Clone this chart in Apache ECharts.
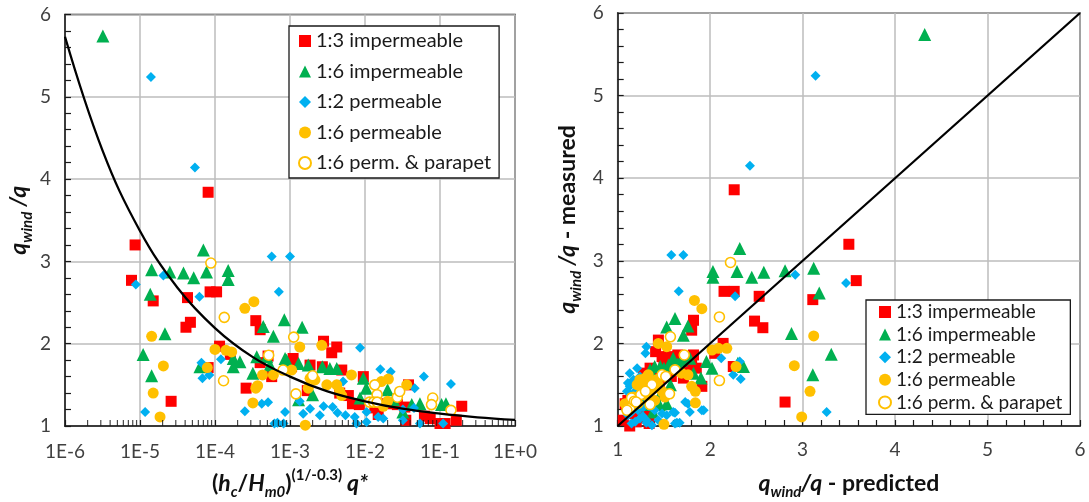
<!DOCTYPE html>
<html>
<head>
<meta charset="utf-8">
<script src="https://cdn.jsdelivr.net/npm/echarts@6/dist/echarts.min.js"></script>
<style>
  html, body { margin: 0; padding: 0; background: #fff; }
  #chart { width: 1089px; height: 502px; }
</style>
</head>
<body>
<div id="chart"></div>
<script>
// Test series
const seriesNames = ['1:3 impermeable', '1:6 impermeable', '1:2 permeable', '1:6 permeable', '1:6 perm. & parapet'];

// Left panel: [(hc/Hm0)^(1/-0.3) q*, qwind/q measured]
const leftImp13 = [
  [8.6e-6, 3.2], [7.7e-6, 2.77], [1.5e-5, 2.52], [4.3e-5, 2.56], [4.1e-5, 2.2], [4.7e-5, 2.26],
  [8.6e-5, 2.63], [1.05e-4, 2.63], [2.6e-5, 1.3], [8.1e-5, 3.84], [1.15e-4, 1.97], [1.6e-4, 1.87],
  [8.1e-5, 1.71], [3.5e-4, 2.28], [4.0e-4, 2.17], [2.6e-4, 1.46], [5.1e-4, 1.85], [4.0e-4, 1.77],
  [5.7e-4, 1.6], [2.8e-3, 2.03], [4.2e-3, 1.96], [3.6e-3, 1.89], [1.1e-3, 1.82], [1.05e-3, 1.72],
  [1.85e-3, 1.74], [2.7e-3, 1.72], [4.9e-3, 1.68], [9.5e-3, 1.6], [1.7e-3, 1.43], [4.6e-3, 1.4],
  [6.0e-3, 1.37], [6.8e-3, 1.27], [8.4e-3, 1.26], [1.35e-2, 1.22], [1.5e-2, 1.14], [1.95e-2, 1.27],
  [2.7e-2, 1.26], [3.4e-2, 1.23], [3.8e-2, 1.5], [3.5e-2, 1.07], [6.2e-2, 1.12], [7.4e-2, 1.09],
  [1.0e-1, 1.03], [1.17e-1, 1.03], [1.65e-1, 1.07], [1.95e-1, 1.24]
];
const leftImp16 = [
  [3.2e-6, 5.74], [7.0e-5, 3.14], [1.43e-5, 2.9], [2.5e-5, 2.87], [3.8e-5, 2.86], [5.2e-5, 2.8],
  [7.7e-5, 2.87], [1.5e-4, 2.89], [1.5e-4, 2.78], [1.37e-5, 2.6], [2.15e-5, 2.12], [1.1e-5, 1.87],
  [1.43e-5, 1.61], [6.3e-5, 1.72], [1.75e-4, 1.82], [2.15e-4, 1.78], [1.75e-4, 1.72], [4.4e-4, 2.21],
  [6.0e-4, 2.09], [3.6e-4, 1.84], [4.9e-4, 1.84], [5.4e-4, 1.74], [3.2e-4, 1.64], [8.4e-4, 2.29],
  [1.45e-3, 2.2], [8.6e-4, 1.82], [1.3e-3, 1.76], [1.75e-3, 1.74], [2.7e-3, 1.72], [3.4e-3, 1.7],
  [4.2e-3, 1.7], [9.5e-3, 1.58], [1.04e-2, 1.46], [2.0e-3, 1.38], [8.6e-3, 1.34], [1.3e-3, 1.32],
  [2.4e-2, 1.32], [4.2e-2, 1.26], [5.4e-2, 1.27], [1.05e-1, 1.26], [1.2e-1, 1.27], [2.0e-2, 1.44],
  [3.2e-2, 1.17], [9.0e-4, 1.8]
];
const leftPerm12 = [
  [1.4e-5, 5.24], [5.4e-5, 4.14], [8.8e-6, 2.72], [2.05e-5, 2.83], [6.2e-5, 2.57], [5.7e-4, 3.06],
  [1.0e-3, 3.06], [7.1e-4, 2.63], [6.6e-5, 1.77], [6.8e-5, 1.58], [8.4e-5, 1.62], [1.2e-4, 1.81],
  [1.17e-5, 1.17], [2.5e-4, 1.18], [4.2e-4, 1.27], [5.1e-4, 1.29], [6.8e-4, 1.04], [8.2e-4, 1.03],
  [8.6e-4, 1.17], [1.2e-3, 1.38], [1.35e-3, 1.3], [1.5e-3, 1.15], [1.85e-3, 1.21], [2.5e-3, 1.13],
  [2.8e-3, 1.24], [3.7e-3, 1.23], [4.3e-3, 1.16], [5.5e-3, 1.13], [5.1e-3, 1.54], [8.6e-3, 1.95],
  [7.3e-3, 1.11], [7.7e-3, 1.03], [1.05e-2, 1.05], [1.05e-2, 1.17], [1.6e-2, 1.69], [2.2e-2, 1.66],
  [1.5e-2, 1.11], [1.75e-2, 1.09], [3.2e-2, 1.07], [5.4e-2, 1.03], [1.1e-1, 1.03], [6.1e-2, 1.6],
  [1.4e-1, 1.51], [4.6e-2, 1.46], [3.2e-2, 1.2], [4.5e-2, 1.22], [6.2e-4, 1.03]
];
const leftPerm16 = [
  [1.43e-5, 2.09], [2.05e-5, 1.73], [1.5e-5, 1.4], [1.85e-5, 1.11], [7.9e-5, 1.71], [1.0e-4, 1.93],
  [1.4e-4, 1.92], [1.67e-4, 1.9], [2.5e-4, 2.43], [3.3e-4, 2.51], [3.5e-4, 1.46], [3.7e-4, 1.49],
  [3.2e-4, 1.28], [4.3e-4, 1.62], [6.0e-4, 1.62], [1.35e-3, 1.96], [2.65e-3, 1.98], [6.6e-3, 1.62],
  [1.85e-3, 1.58], [2.15e-3, 1.56], [1.75e-3, 1.46], [3.1e-3, 1.5], [4.2e-3, 1.5], [4.9e-3, 1.37],
  [4.6e-3, 1.42], [1.65e-2, 1.54], [2.05e-2, 1.57], [1.75e-2, 1.24], [1.6e-3, 1.01], [1.05e-3, 1.68],
  [3.6e-2, 1.5], [2.0e-2, 1.3]
];
const leftParapet = [
  [8.8e-5, 2.98], [1.33e-4, 2.32], [1.3e-4, 1.55], [5.2e-4, 1.86], [8.1e-4, 1.68], [1.12e-3, 2.08],
  [1.2e-3, 1.39], [2.0e-3, 1.61], [1.35e-2, 1.5], [1.45e-2, 1.38], [1.15e-2, 1.29], [1.3e-2, 1.29],
  [1.45e-2, 1.29], [2.7e-2, 1.35], [2.9e-2, 1.42], [8.0e-2, 1.34], [7.7e-2, 1.26], [1.4e-1, 1.19]
];

// Prediction curve qwind/q against the dimensionless parameter
const curveParam = [1e-6, 3.16e-6, 1e-5, 3.16e-5, 1e-4, 3.16e-4, 1e-3, 3.16e-3, 1e-2, 3.16e-2, 1e-1, 3.16e-1, 1];
const curveValue = [5.73, 4.35, 3.37, 2.68, 2.19, 1.84, 1.60, 1.42, 1.30, 1.21, 1.15, 1.106, 1.075];

// Right panel: [qwind/q predicted, qwind/q measured]
const rightImp13 = [
  [2.26, 3.86], [3.5, 3.2], [3.58, 2.76], [3.11, 2.53], [2.15, 2.63], [2.26, 2.63], [2.53, 2.57],
  [2.48, 2.27], [2.57, 2.19], [2.81, 1.29], [1.82, 2.28], [1.8, 2.16], [1.44, 2.04], [1.41, 1.9],
  [2.14, 2.0], [2.05, 1.88], [2.25, 1.72], [1.91, 1.48], [1.55, 1.84], [1.6, 1.74], [1.71, 1.58],
  [1.8, 1.76], [1.35, 1.7], [1.28, 1.64], [1.1, 1.25], [1.06, 1.07], [1.13, 1.0], [1.48, 1.84],
  [1.71, 1.84], [1.82, 1.86], [1.76, 1.68], [1.85, 1.7], [1.08, 1.27], [1.11, 1.31], [1.31, 1.17],
  [1.34, 1.03], [1.65, 1.86], [1.5, 1.72], [1.43, 1.63], [1.2, 1.05], [1.25, 1.36], [1.3, 1.45],
  [1.16, 1.15], [1.45, 1.5], [1.58, 1.6], [1.22, 1.1]
];
const rightImp16 = [
  [4.32, 5.74], [2.32, 3.15], [2.03, 2.87], [2.03, 2.8], [2.29, 2.87], [2.45, 2.8], [2.58, 2.86],
  [2.81, 2.88], [2.88, 2.12], [3.11, 1.62], [3.12, 2.91], [3.18, 2.61], [3.31, 1.87], [1.62, 2.3],
  [1.53, 2.2], [1.76, 2.21], [1.71, 2.1], [1.4, 1.72], [1.46, 1.72], [1.55, 1.74], [1.6, 1.82],
  [1.69, 1.8], [1.78, 1.82], [1.96, 1.78], [2.02, 1.7], [2.36, 1.72], [2.3, 1.76], [1.82, 1.64],
  [1.53, 1.27], [1.46, 1.38], [1.42, 1.48], [1.57, 1.5], [1.5, 1.7], [1.35, 1.68], [1.65, 1.75],
  [1.27, 1.32], [1.22, 1.26], [1.3, 1.26], [1.18, 1.27], [1.38, 1.17], [1.25, 1.44], [1.45, 1.26],
  [1.9, 1.58]
];
const rightPerm12 = [
  [3.14, 5.24], [2.43, 4.15], [1.58, 3.07], [1.71, 3.07], [2.92, 2.83], [1.66, 2.63], [2.27, 2.57],
  [2.12, 1.82], [2.32, 1.78], [2.25, 1.62], [2.33, 1.57], [1.31, 1.96], [1.3, 1.88], [3.47, 2.73],
  [3.26, 1.17], [1.73, 1.29], [1.76, 1.27], [1.91, 1.19], [1.62, 1.16], [1.64, 1.04], [1.67, 1.04],
  [1.31, 1.04], [1.13, 1.64], [1.21, 1.7], [1.24, 1.6], [1.11, 1.52], [1.17, 1.56], [1.13, 1.48],
  [1.1, 1.42], [1.19, 1.42], [1.22, 1.36], [1.33, 1.31], [1.28, 1.23], [1.22, 1.19], [1.15, 1.17],
  [1.11, 1.13], [1.4, 1.19], [1.48, 1.15], [1.53, 1.13], [1.24, 1.09], [1.31, 1.07], [1.19, 1.05],
  [1.37, 1.01], [1.44, 1.07], [1.6, 1.17], [1.62, 1.03], [1.78, 1.17], [1.93, 1.19], [1.15, 1.03],
  [1.27, 1.12], [1.34, 1.24], [1.08, 1.27]
];
const rightPerm16 = [
  [1.83, 2.52], [1.91, 2.42], [1.44, 2.0], [1.53, 1.96], [2.02, 1.92], [2.09, 1.94], [2.18, 1.94],
  [2.28, 1.72], [2.91, 1.73], [3.08, 1.42], [2.99, 1.11], [3.12, 2.09], [1.5, 1.02], [1.84, 1.28],
  [1.8, 1.48], [1.84, 1.42], [1.69, 1.64], [1.76, 1.62], [1.33, 1.62], [1.24, 1.56], [1.21, 1.5],
  [1.28, 1.46], [1.37, 1.44], [1.44, 1.5], [1.48, 1.42], [1.51, 1.35], [1.17, 1.35], [1.08, 1.27],
  [1.13, 1.23], [1.22, 1.27], [1.33, 1.35], [1.4, 1.31], [1.3, 1.58], [1.42, 1.56]
];
const rightParapet = [
  [2.22, 2.98], [2.1, 2.32], [2.1, 1.55], [1.57, 2.08], [1.72, 1.86], [1.62, 1.68], [1.56, 1.39],
  [1.48, 1.62], [1.15, 1.34], [1.13, 1.21], [1.18, 1.3], [1.25, 1.38], [1.2, 1.29], [1.37, 1.5],
  [1.3, 1.42], [1.35, 1.26], [1.1, 1.19], [1.52, 1.6]
];

// Line of perfect agreement (predicted = measured)
const agreementLine = [1, 6];

// Marker styles for the five test series
const markerColors = ['#ff0000', '#00b050', '#00b0f0', '#ffc000', '#ffc000'];
const markerShapes = ['rect', 'triangle', 'diamond', 'circle', 'circle'];
const markerSizes = [11, 13, 10, 11, 10];

const leftSets = [leftImp13, leftImp16, leftPerm12, leftPerm16, leftParapet];
const rightSets = [rightImp13, rightImp16, rightPerm12, rightPerm16, rightParapet];

// Minor tick positions on the log axis: 2..9 within each decade
const logMinorTicks = [];
for (let e = -6; e < 0; e++) {
  for (let k = 2; k <= 9; k++) logMinorTicks.push(k * Math.pow(10, e));
}

const FONT = 'Lato';
const labelColor = '#404040';
const gridColor = '#bdbdbd';
const axisColor = '#1a1a1a';
const TICK_LEN = 6;

function markerStyle(i) {
  if (i === 4) {
    return { color: '#ffffff', borderColor: markerColors[i], borderWidth: 1.6, opacity: 1 };
  }
  return { color: markerColors[i], opacity: 1 };
}

function scatterSeries(sets, axisIdx) {
  return sets.map((pts, i) => ({
    name: seriesNames[i],
    type: 'scatter',
    xAxisIndex: axisIdx,
    yAxisIndex: axisIdx,
    symbol: markerShapes[i],
    symbolSize: markerSizes[i],
    itemStyle: markerStyle(i),
    data: pts,
    z: 3 + i * 0.01
  }));
}

const titleRich = {
  bi: { fontFamily: FONT, fontSize: 23, fontWeight: 'bold', fontStyle: 'italic', color: '#111', lineHeight: 32, verticalAlign: 'middle' },
  b: { fontFamily: FONT, fontSize: 23, fontWeight: 'bold', color: '#111', lineHeight: 32, verticalAlign: 'middle' },
  sub: { fontFamily: FONT, fontSize: 15, fontWeight: 'bold', fontStyle: 'italic', color: '#111', lineHeight: 17, verticalAlign: 'bottom' },
  sup: { fontFamily: FONT, fontSize: 15, fontWeight: 'bold', color: '#111', lineHeight: 17, verticalAlign: 'top' }
};

function valueAxisBase() {
  return {
    axisLine: { show: true, onZero: false, lineStyle: { color: axisColor, width: 1.5 } },
    axisTick: { show: true, inside: true, length: TICK_LEN, lineStyle: { color: axisColor, width: 1.2 } },
    minorTick: { show: true, splitNumber: 5, length: TICK_LEN, lineStyle: { color: axisColor, width: 1.2 } },
    splitLine: { show: true, lineStyle: { color: gridColor, width: 1.5 } },
    axisLabel: { fontFamily: FONT, fontSize: 19, color: labelColor, margin: 14, showMinLabel: true, showMaxLabel: true, hideOverlap: false }
  };
}

const legendBase = {
  orient: 'vertical',
  data: seriesNames,
  borderColor: '#1a1a1a',
  borderWidth: 1.3,
  backgroundColor: '#ffffff',
  itemWidth: 12,
  itemHeight: 12,
  selectedMode: false
};

const chart = echarts.init(document.getElementById('chart'));

const option = {
  animation: false,
  backgroundColor: '#ffffff',
  grid: [
    { left: 65, top: 14.5, width: 450, height: 411.5, show: true, borderColor: axisColor, borderWidth: 1.5, containLabel: false, outerBoundsMode: 'none' },
    { left: 617.7, top: 13, width: 462.3, height: 413, show: true, borderColor: axisColor, borderWidth: 1.5, containLabel: false, outerBoundsMode: 'none' }
  ],
  legend: [
    Object.assign({}, legendBase, {
      left: 289, top: 26, padding: [4, 8, 4, 9], itemGap: 8.5,
      textStyle: { fontFamily: FONT, color: '#1a1a1a', fontSize: 20, lineHeight: 22 }
    }),
    Object.assign({}, legendBase, {
      left: 866, top: 300, padding: [2, 8, 2, 12], itemGap: 2.6,
      textStyle: { fontFamily: FONT, color: '#1a1a1a', fontSize: 19, lineHeight: 20 }
    })
  ],
  xAxis: [
    Object.assign(valueAxisBase(), {
      type: 'log', logBase: 10, gridIndex: 0, min: 1e-6, max: 1, splitNumber: 6,
      minorTick: { show: false },
      axisLabel: Object.assign(valueAxisBase().axisLabel, {
        margin: 16,
        formatter: (v) => {
          const e = Math.round(Math.log10(v));
          return '1E' + (e < 0 ? '-' + (-e) : '+' + e);
        }
      }),
      name: '{b|(}{bi|h}{sub|c}{b|/}{bi|H}{sub|m0}{b|)}{sup|(1/-0.3)}{bi| q*}',
      nameLocation: 'middle', nameGap: 42,
      nameTextStyle: { rich: titleRich }
    }),
    Object.assign(valueAxisBase(), {
      type: 'value', gridIndex: 1, min: 1, max: 6, interval: 1,
      name: '{bi|q}{sub|wind}{bi|/q}{b| - predicted}',
      nameLocation: 'middle', nameGap: 42,
      nameTextStyle: { rich: titleRich }
    })
  ],
  yAxis: [
    Object.assign(valueAxisBase(), {
      type: 'value', gridIndex: 0, min: 1, max: 6, interval: 1,
      name: '{bi|q}{sub|wind}{bi| /q}',
      nameLocation: 'middle', nameGap: 30, nameRotate: 90,
      nameTextStyle: { rich: titleRich }
    }),
    Object.assign(valueAxisBase(), {
      type: 'value', gridIndex: 1, min: 1, max: 6, interval: 1,
      name: '{bi|q}{sub|wind}{bi| /q}{b| - measured}',
      nameLocation: 'middle', nameGap: 34, nameRotate: 90,
      nameTextStyle: { rich: titleRich }
    })
  ],
  series: [
    {
      // minor ticks of the logarithmic axis, drawn as thin bars standing on the axis
      type: 'scatter', name: 'logTicks', xAxisIndex: 0, yAxisIndex: 0,
      data: logMinorTicks.map(x => [x, 1]), clip: false, silent: true, z: 6,
      symbol: 'rect', symbolSize: [1.2, TICK_LEN], symbolOffset: [0, -TICK_LEN / 2],
      itemStyle: { color: axisColor }
    },
    ...scatterSeries(leftSets, 0),
    ...scatterSeries(rightSets, 1),
    {
      type: 'line', name: 'prediction', xAxisIndex: 0, yAxisIndex: 0,
      data: curveParam.map((x, i) => [x, curveValue[i]]),
      smooth: 0.4, showSymbol: false, symbol: 'none',
      lineStyle: { color: '#000', width: 2.3 }, z: 5, silent: true
    },
    {
      type: 'line', name: 'agreement', xAxisIndex: 1, yAxisIndex: 1,
      data: agreementLine.map(v => [v, v]),
      showSymbol: false, symbol: 'none',
      lineStyle: { color: '#000', width: 2.3 }, z: 5, silent: true
    }
  ]
};

chart.setOption(option);
</script>
</body>
</html>
